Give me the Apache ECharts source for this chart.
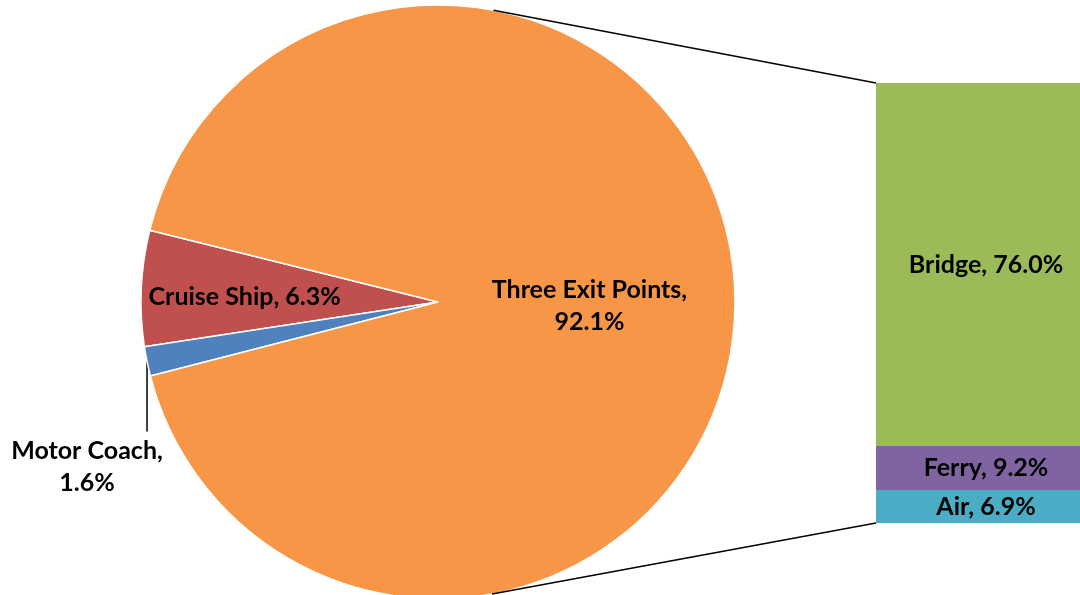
<!DOCTYPE html>
<html>
<head>
<meta charset="utf-8">
<script src="https://cdn.jsdelivr.net/npm/echarts@6/dist/echarts.min.js"></script>
<style>
html,body{margin:0;padding:0;background:#fff;}
#main{width:1080px;height:595px;}
</style>
</head>
<body>
<div id="main"></div>
<script>
// ---- data ----
const pieCategories = ['Cruise Ship', 'Motor Coach', 'Three Exit Points'];
const pieValues = [6.3, 1.6, 92.1];
const barCategories = ['Air', 'Ferry', 'Bridge'];
const barValues = [6.9, 9.2, 76.0];

// ---- styles ----
const pieColors = ['#C0504D', '#4F81BD', '#F79646'];
const barColors = ['#4BACC6', '#8064A2', '#9BBB59'];
const FONT = 'Lato';
const FS = 25;

const chart = echarts.init(document.getElementById('main'));
const PIE_CENTER = [438, 302];
const PIE_R = 297;

const pieData = pieCategories.map((n, i) => {
  const item = { name: n, value: pieValues[i], itemStyle: { color: pieColors[i] } };
  if (i === 0) {
    item.label = { position: 'inside', offset: [-42, 2], formatter: p => p.name + ', ' + p.value.toFixed(1) + '%' };
  } else if (i === 1) {
    item.label = { position: 'outside', formatter: p => p.name + ',\n' + p.value.toFixed(1) + '%' };
    item.labelLine = { show: true, length: 10, length2: 10, lineStyle: { color: '#000', width: 1.5 } };
  } else {
    item.label = { position: 'inside', offset: [0, 5], formatter: p => p.name + ',\n' + p.value.toFixed(1) + '%' };
  }
  return item;
});

const barSum = barValues.reduce((a, b) => a + b, 0);

const barSeries = barCategories.map((n, i) => ({
  type: 'bar',
  name: n,
  stack: 'total',
  barWidth: '100%',
  data: [barValues[i]],
  itemStyle: { color: barColors[i] },
  label: {
    show: true,
    position: 'inside',
    offset: [8, 0],
    color: '#000',
    fontFamily: FONT,
    fontWeight: 'bold',
    fontSize: FS,
    formatter: p => n + ', ' + p.value.toFixed(1) + '%'
  }
}));

const option = {
  animation: false,
  backgroundColor: '#fff',
  grid: { left: 876, right: 0, top: 83, bottom: 72 },
  xAxis: { type: 'category', data: ['Three Exit Points'], show: false },
  yAxis: { type: 'value', min: 0, max: barSum, show: false },
  series: [
    {
      type: 'pie',
      center: PIE_CENTER,
      radius: PIE_R,
      startAngle: 166,
      clockwise: false,
      avoidLabelOverlap: false,
      data: pieData,
      itemStyle: { borderColor: '#fff', borderWidth: 1.5 },
      label: {
        color: '#000',
        fontFamily: FONT,
        fontWeight: 'bold',
        fontSize: FS,
        lineHeight: 32,
        align: 'center'
      },
      labelLine: { show: false },
      labelLayout: function (params) {
        if (params.dataIndex === 1 && params.labelLinePoints) {
          const p0 = params.labelLinePoints[0];
          return {
            x: p0[0] - 60,
            y: p0[1] + 105,
            align: 'center',
            verticalAlign: 'middle',
            labelLinePoints: [[p0[0], p0[1]], [p0[0], p0[1] + 70], [p0[0], p0[1] + 70]]
          };
        }
        return {};
      },
      emphasis: { disabled: true }
    }
  ].concat(barSeries)
};
chart.setOption(option);

// connector lines: tangents from bar corners to the pie circle
function tangentPoint(P, C, r, sign) {
  const vx = P[0] - C[0], vy = P[1] - C[1];
  const d = Math.sqrt(vx * vx + vy * vy);
  const th = Math.atan2(vy, vx);
  const a = Math.acos(r / d);
  const t = th + sign * a;
  return [C[0] + r * Math.cos(t), C[1] + r * Math.sin(t)];
}
const gridRect = chart.getModel().getComponent('grid').coordinateSystem.getRect();
const yTop = chart.convertToPixel({ yAxisIndex: 0 }, barSum);
const yBot = chart.convertToPixel({ yAxisIndex: 0 }, 0);
const cTop = [gridRect.x, yTop];
const cBot = [gridRect.x, yBot];
const tTop = tangentPoint(cTop, PIE_CENTER, PIE_R, -1);
const tBot = tangentPoint(cBot, PIE_CENTER, PIE_R, 1);
chart.setOption({
  graphic: [
    { type: 'line', shape: { x1: cTop[0], y1: cTop[1], x2: tTop[0], y2: tTop[1] }, style: { stroke: '#000', lineWidth: 1.5 }, z: 10 },
    { type: 'line', shape: { x1: cBot[0], y1: cBot[1], x2: tBot[0], y2: tBot[1] }, style: { stroke: '#000', lineWidth: 1.5 }, z: 10 }
  ]
});
</script>
</body>
</html>
